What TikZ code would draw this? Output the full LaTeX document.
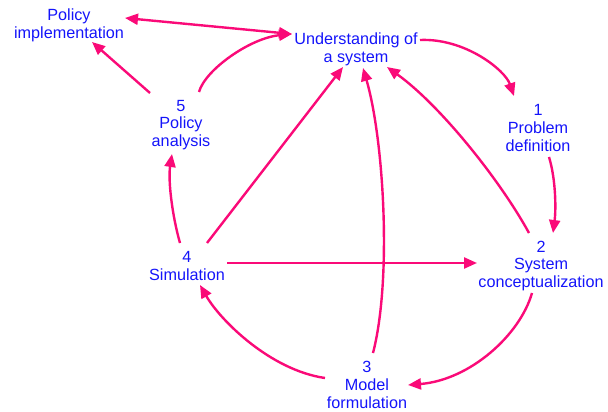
\documentclass[tikz,border=0pt]{standalone}
\usepackage{fontspec}
\setmainfont{Liberation Sans}
\usetikzlibrary{arrows.meta}
\definecolor{labelblue}{RGB}{20,20,250}
\definecolor{linkpink}{RGB}{250,10,120}
\tikzset{
  stage/.style={inner sep=0pt, align=center, text=labelblue,
    font=\fontsize{16.2}{17.8}\selectfont},
  link/.style={draw=linkpink, line width=2.4pt,
    -{Triangle[length=13pt,width=11pt]}},
  twoway/.style={link, {Triangle[length=13pt,width=11pt]}-{Triangle[length=13pt,width=11pt]}}
}
\begin{document}
\begin{tikzpicture}[x=1pt,y=-1pt]
\useasboundingbox (0,0) rectangle (608,412);

% stages of the modelling cycle
\node[stage] (pi) at (69,25.5) {Policy\\implementation};
\node[stage] (u)  at (356,49) {Understanding of\\a system};
\node[stage] (p1) at (538,128) {1\\Problem\\definition};
\node[stage] (p2) at (541,266) {2\\System\\conceptualization};
\node[stage] (p3) at (367,385) {3\\Model\\formulation};
\node[stage] (p4) at (187,266) {4\\Simulation};
\node[stage] (p5) at (181,125) {5\\Policy\\analysis};

% links between stages
\draw[twoway] ([shift={(56,-7.5)}]pi.center) -- ([shift={(-64,-15)}]u.center);
\draw[link] ([shift={(18,-33)}]p5.center) .. controls +(6,-22) and +(-42,4) .. ([shift={(-64,-15)}]u.center);
\draw[link] ([shift={(-31,-32)}]p5.center) -- ([shift={(23,16.5)}]pi.center);
\draw[link] ([shift={(64,-9)}]u.center) .. controls +(45,-2) and +(-9,-26) .. ([shift={(-24,-32)}]p1.center);
\draw[link] ([shift={(11,29)}]p1.center) .. controls +(7,23) and +(3,-23) .. ([shift={(12,-33)}]p2.center);
\draw[link] ([shift={(-12,-33)}]p2.center) .. controls +(-29,-53) and +(53,38) .. ([shift={(31,18)}]u.center);
\draw[link] ([shift={(6,-32)}]p3.center) .. controls +(19,-73) and +(21,72) .. ([shift={(7,19)}]u.center);
\draw[link] ([shift={(20,-23)}]p4.center) -- ([shift={(-13,18)}]u.center);
\draw[link] ([shift={(40,-3)}]p4.center) -- ([shift={(-64,-3)}]p2.center);
\draw[link] ([shift={(-9,27)}]p2.center) .. controls +(-12,42) and +(62,-5) .. ([shift={(41,0)}]p3.center);
\draw[link] ([shift={(-42,-7)}]p3.center) .. controls +(-55,-8) and +(20,35) .. ([shift={(13,19)}]p4.center);
\draw[link] ([shift={(-7,-23)}]p4.center) .. controls +(-8,-28) and +(-4,26) .. ([shift={(-9,29)}]p5.center);
\end{tikzpicture}
\end{document}
